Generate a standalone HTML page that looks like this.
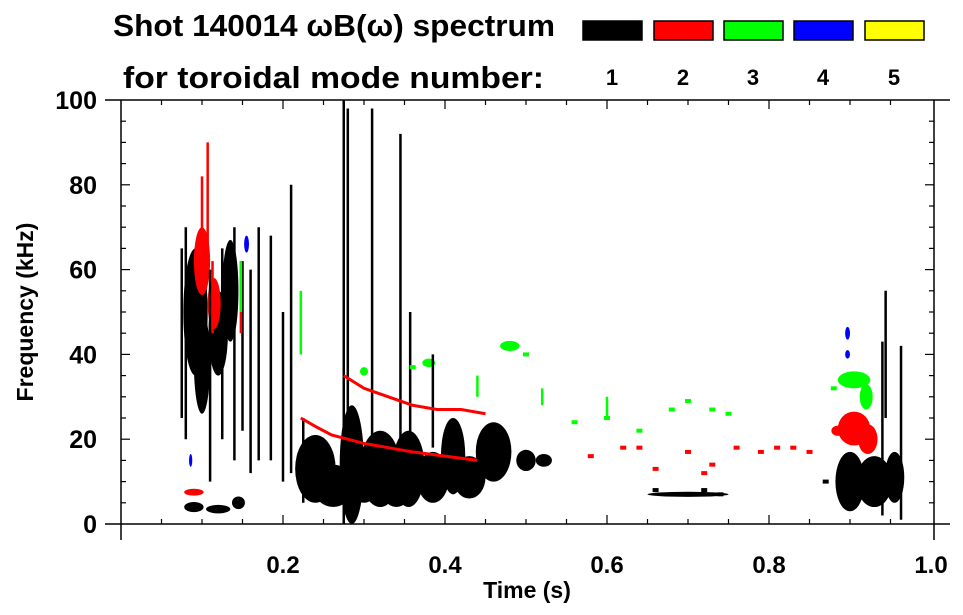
<!DOCTYPE html>
<html><head><meta charset="utf-8"><style>
html,body{margin:0;padding:0;background:#fff;}
svg{display:block;font-family:"Liberation Sans",Arial,sans-serif;font-weight:bold;}
</style></head><body>
<svg id="chart" width="963" height="615" viewBox="0 0 963 615" xmlns="http://www.w3.org/2000/svg">
<text x="113" y="36" font-size="31" fill="#000" textLength="442" lengthAdjust="spacingAndGlyphs">Shot 140014 ωB(ω) spectrum</text>
<text x="123" y="88" font-size="31" fill="#000" textLength="421" lengthAdjust="spacingAndGlyphs">for toroidal mode number:</text>
<g id="legend"></g>
<g id="marks"></g>
<g id="axes"></g>
<text x="527" y="598" font-size="23" text-anchor="middle">Time (s)</text>
<text transform="translate(33,312) rotate(-90)" font-size="23" text-anchor="middle">Frequency (kHz)</text>
</svg>
<script>
const modeColors = ["#000000","#ff0000","#00ff00","#0000ff","#ffff00"];
const modeLabels = ["1","2","3","4","5"];
const xTicks = [0.2,0.4,0.6,0.8,1.0];
const xTickLabels = ["0.2","0.4","0.6","0.8","1.0"];
const yTicks = [0,20,40,60,80,100];
const yTickLabels = ["0","20","40","60","80","100"];
// blobs: mode, time, freq, half-width (s), half-height (kHz)
const blobMode = [1,1,1,1,1,1,1, 1,1,1,1,1,1,1,1,1,1,1,1,1,1,1,1,1, 2,2,2,2,2,2, 3,3,3,3,3, 4,4,4,4];
const blobT    = [0.092,0.1,0.12,0.135,0.09,0.12,0.145, 0.24,0.285,0.32,0.355,0.385,0.41,0.46,0.5,0.522,0.9,0.93,0.955,0.262,0.7,0.3,0.34,0.43];
blobT.push(0.905,0.922,0.1,0.115,0.09,0.885, 0.48,0.905,0.92,0.38,0.3, 0.897,0.897,0.155,0.086);
const blobF    = [50,38,45,55,4,3.5,5, 13,14,13,13,11,16,17,15,15,10,10,11,9,7,10,9,11, 22.5,20,62,52,7.5,22, 42,34,30,38,36, 45,40,66,15];
const blobDT   = [0.015,0.01,0.012,0.01,0.012,0.015,0.008, 0.025,0.015,0.025,0.02,0.02,0.015,0.022,0.012,0.01,0.018,0.022,0.012,0.025,0.05,0.02,0.02,0.02, 0.02,0.012,0.01,0.008,0.012,0.008, 0.012,0.02,0.008,0.008,0.005, 0.003,0.003,0.003,0.002];
const blobDF   = [15,12,10,12,1.2,1,1.5, 8,14,9,9,6,9,7,2.5,1.5,7,6,6,5,0.6,5,5,5, 4,3.5,8,6,0.8,1.2, 1.2,2,3,1,1, 1.5,1,2,1.5];
// streaks: mode, time, freq start, freq end
const streakMode = [1,1,1,1,1,1,1,1,1,1,1,1,1,1,1,1,1,1,1,1,1, 2,2,2,2, 3,3,3,3,3];
const streakT    = [0.075,0.08,0.11,0.125,0.14,0.15,0.16,0.17,0.185,0.2,0.21,0.225,0.275,0.28,0.31,0.345,0.357,0.385,0.944,0.94,0.963, 0.1,0.107,0.113,0.148, 0.222,0.148,0.44,0.52,0.6];
const streakF0   = [25,20,10,20,15,22,12,15,15,10,12,5,0,5,5,8,20,18,25,2,1, 55,60,45,45, 40,50,30,28,25];
const streakF1   = [65,70,60,65,70,62,60,70,68,50,80,25,100,98,98,92,50,40,55,43,42, 82,90,62,62, 55,62,35,32,30];
// red chirp lines
const chirp1T = [0.222,0.24,0.26,0.28,0.3,0.33,0.36,0.4,0.44];
const chirp1F = [25,23,21,20,19,18,17,16,15];
const chirp2T = [0.275,0.3,0.33,0.36,0.39,0.42,0.45];
const chirp2F = [35,32,30,28,27,27,26];
// scattered small dashes: mode, time, freq
const dashMode = [2,2,2,2,2,2,2,2,2,2,2,2, 3,3,3,3,3,3,3,3,3,3, 1,1,1,1,1];
const dashT    = [0.58,0.62,0.66,0.7,0.73,0.76,0.79,0.81,0.83,0.85,0.64,0.72, 0.56,0.6,0.64,0.68,0.7,0.73,0.75,0.5,0.36,0.88, 0.66,0.68,0.72,0.74,0.87];
const dashF    = [16,18,13,17,14,18,17,18,18,17,18,12, 24,25,22,27,29,27,26,40,37,32, 8,7,8,7,10];

const NS="http://www.w3.org/2000/svg";
const X0=121, XS=810, Y0=524, YS=4.24;
function xs(t){return X0+t*XS;}
function ys(f){return Y0-f*YS;}
function mk(tag,attrs,parent){const e=document.createElementNS(NS,tag);for(const k in attrs)e.setAttribute(k,attrs[k]);parent.appendChild(e);return e;}

const marks=document.getElementById('marks');
for(let i=0;i<blobT.length;i++){
  const e=mk('ellipse',{cx:xs(blobT[i]),cy:ys(blobF[i]),rx:blobDT[i]*XS,ry:blobDF[i]*YS,fill:modeColors[blobMode[i]-1]},marks);
  
  
}
for(let i=0;i<streakT.length;i++){
  const e=mk('line',{x1:xs(streakT[i]),x2:xs(streakT[i]),y1:ys(streakF0[i]),y2:ys(streakF1[i]),stroke:modeColors[streakMode[i]-1],'stroke-width':2.5},marks);
  
  
}
function chirp(T,F,name){
  const p=mk('polyline',{points:T.map((t,i)=>xs(t)+','+ys(F[i])).join(' '),fill:'none',stroke:'#ff0000','stroke-width':3},marks);
  
  
}
chirp(chirp1T,chirp1F,'chirp-mode-2-lower');
chirp(chirp2T,chirp2F,'chirp-mode-2-upper');
for(let i=0;i<dashT.length;i++){
  const e=mk('rect',{x:xs(dashT[i])-3,y:ys(dashF[i])-2,width:6,height:4,fill:modeColors[dashMode[i]-1]},marks);
  
  
}

const axes=document.getElementById('axes');
const L=xs(0), R=xs(1.0)+3, T=ys(100), B=ys(0);
let a;
a=mk('line',{x1:105,x2:950,y1:B,y2:B,stroke:'#000','stroke-width':1.5},axes);
a=mk('line',{x1:105,x2:950,y1:T,y2:T,stroke:'#000','stroke-width':1.5},axes);
a=mk('line',{x1:L,x2:L,y1:T,y2:B+16,stroke:'#000','stroke-width':1.5},axes);
a=mk('line',{x1:R,x2:R,y1:T,y2:B+16,stroke:'#000','stroke-width':1.5},axes);
for(let t=0.05;t<1.0;t+=0.05){
  const major=Math.abs(t*10-Math.round(t*10))<1e-6 && Math.round(t*10)%2===0;
  const len=major?9:5;
  a=mk('line',{x1:xs(t),x2:xs(t),y1:B,y2:B-len,stroke:'#000','stroke-width':1.2},axes);
  a=mk('line',{x1:xs(t),x2:xs(t),y1:T,y2:T+len,stroke:'#000','stroke-width':1.2},axes);
}
for(let f=5;f<100;f+=5){
  const len=(f%20===0)?9:5;
  a=mk('line',{x1:L,x2:L+len,y1:ys(f),y2:ys(f),stroke:'#000','stroke-width':1.2},axes);
  a=mk('line',{x1:R,x2:R-len,y1:ys(f),y2:ys(f),stroke:'#000','stroke-width':1.2},axes);
}
for(let i=0;i<xTicks.length;i++){
  const e=mk('text',{x:xs(xTicks[i]),y:573,'font-size':24,'text-anchor':'middle'},axes);e.textContent=xTickLabels[i];
  
  
}
for(let i=0;i<yTicks.length;i++){
  const e=mk('text',{x:97,y:ys(yTicks[i])+9,'font-size':25,'text-anchor':'end'},axes);e.textContent=yTickLabels[i];
  
  
}
const legend=document.getElementById('legend');
const legX=[582,653,723,793,864];
for(let i=0;i<5;i++){
  const r=mk('rect',{x:legX[i]+1,y:21,width:59,height:19,fill:modeColors[i],stroke:'#000','stroke-width':1.5},legend);
  
  
  const t=mk('text',{x:legX[i]+30,y:85,'font-size':22,'text-anchor':'middle'},legend);t.textContent=modeLabels[i];
  
  
}
</script>
</body></html>
